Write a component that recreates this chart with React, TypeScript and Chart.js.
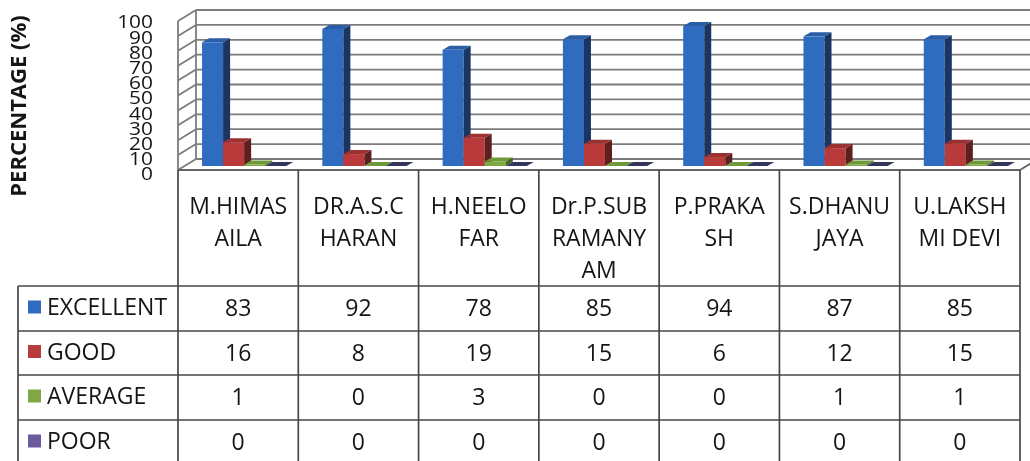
import React, { useEffect, useRef } from "react";
import { Chart, registerables } from "chart.js";
Chart.register(...registerables);

// ---------- data ----------
const categories: string[][] = [
  ["M.HIMAS", "AILA"],
  ["DR.A.S.C", "HARAN"],
  ["H.NEELO", "FAR"],
  ["Dr.P.SUB", "RAMANY", "AM"],
  ["P.PRAKA", "SH"],
  ["S.DHANU", "JAYA"],
  ["U.LAKSH", "MI DEVI"],
];
const seriesNames = ["EXCELLENT", "GOOD", "AVERAGE", "POOR"];
const excellent = [83, 92, 78, 85, 94, 87, 85];
const good = [16, 8, 19, 15, 6, 12, 15];
const average = [1, 0, 3, 0, 0, 1, 1];
const poor = [0, 0, 0, 0, 0, 0, 0];
const yTicks = [0, 10, 20, 30, 40, 50, 60, 70, 80, 90, 100];
const yTitle = "PERCENTAGE (%)";

// ---------- styles ----------
const FRONT = ["#2F6CC0", "#B93A3A", "#80A844", "#6B5B9E"];
const SIDE = ["#1B3562", "#5E1F20", "#4A6428", "#2B2445"];
const TOP = ["#2A5EA6", "#9C3131", "#6F9A3A", "#34355A"];
const FONT = "'Open Sans', 'DejaVu Sans', sans-serif";
const GRID = "#7c7c7c";
const TABLE_LINE = "#474747";
const TEXT = "#151515";

const D = { x: 7, y: -4 }; // bar depth
const F = { x: -6, y: 4 }; // front plane offset
const B = { x: 12, y: -7 }; // back wall offset

function line(ctx: CanvasRenderingContext2D, x1: number, y1: number, x2: number, y2: number) {
  ctx.beginPath();
  ctx.moveTo(x1, y1);
  ctx.lineTo(x2, y2);
  ctx.stroke();
}
function poly(ctx: CanvasRenderingContext2D, pts: number[][], fill: string) {
  ctx.beginPath();
  ctx.moveTo(pts[0][0], pts[0][1]);
  for (let i = 1; i < pts.length; i++) ctx.lineTo(pts[i][0], pts[i][1]);
  ctx.closePath();
  ctx.fillStyle = fill;
  ctx.fill();
}

const threeD = {
  id: "threeD",
  beforeDatasetsDraw(chart: any) {
    const ctx: CanvasRenderingContext2D = chart.ctx;
    const ys = chart.scales.y;
    const { left, right } = chart.chartArea;
    const y0 = ys.getPixelForValue(0);
    const y100 = ys.getPixelForValue(100);
    ctx.save();
    // walls
    ctx.strokeStyle = GRID;
    ctx.lineWidth = 1.8;
    for (const v of yTicks) {
      const yy = ys.getPixelForValue(v);
      line(ctx, left + B.x, yy + B.y, right + B.x + 20, yy + B.y);
      line(ctx, left + F.x, yy + F.y, left + B.x, yy + B.y);
    }
    line(ctx, left + F.x, y100 + F.y, left + F.x, y0 + F.y);
    line(ctx, left + B.x, y100 + B.y, left + B.x, y0 + B.y);
    ctx.strokeStyle = "#666";
    line(ctx, left + F.x, y0 + F.y, right + F.x, y0 + F.y);
    line(ctx, right + F.x, y0 + F.y, right + B.x, y0 + B.y);

    // bars
    const n = categories.length;
    for (let i = 0; i < n; i++) {
      for (let d = 0; d < chart.data.datasets.length; d++) {
        const el: any = chart.getDatasetMeta(d).data[i];
        const p = el.getProps(["x", "y", "base", "width"], true);
        const l = p.x - p.width / 2;
        const r = p.x + p.width / 2;
        const top = p.y;
        const base = p.base;
        if (base - top > 0.5) {
          ctx.fillStyle = FRONT[d];
          ctx.fillRect(l, top, r - l, base - top);
          poly(ctx, [[r, top], [r + D.x, top + D.y], [r + D.x, base + D.y], [r, base]], SIDE[d]);
        }
        poly(ctx, [[l, top], [l + D.x, top + D.y], [r + D.x, top + D.y], [r, top]], TOP[d]);
      }
    }
    ctx.restore();
    return false;
  },
  afterDraw(chart: any) {
    const ctx: CanvasRenderingContext2D = chart.ctx;
    const ys = chart.scales.y;
    const { left, right } = chart.chartArea;
    const y0 = ys.getPixelForValue(0);
    ctx.save();

    // y tick labels
    ctx.fillStyle = TEXT;
    ctx.font = `19px ${FONT}`;
    ctx.textAlign = "right";
    ctx.textBaseline = "middle";
    for (const v of yTicks) {
      const yy = ys.getPixelForValue(v) + 9 - (3 * v) / 100;
      ctx.save();
      ctx.translate(153, yy);
      ctx.scale(1.1, 1);
      ctx.fillText(String(v), 0, 0);
      ctx.restore();
    }

    // y title
    ctx.save();
    ctx.translate(20, 106);
    ctx.rotate(-Math.PI / 2);
    ctx.font = `bold 22px ${FONT}`;
    ctx.textAlign = "center";
    ctx.textBaseline = "middle";
    ctx.fillText(yTitle, 0, 0);
    ctx.restore();

    // data table
    const n = categories.length;
    const colW = (right - left) / n;
    const tLeft = left + F.x;
    const headerTop = y0 + F.y;
    const rowLines = [286, 331, 375, 420, 465];
    const legendLeft = 18;
    ctx.strokeStyle = TABLE_LINE;
    ctx.lineWidth = 1.7;
    for (let i = 0; i <= n; i++) {
      const xx = tLeft + i * colW;
      line(ctx, xx, headerTop, xx, rowLines[rowLines.length - 1]);
    }
    for (const ry of rowLines) line(ctx, legendLeft, ry, tLeft + n * colW, ry);
    line(ctx, legendLeft, rowLines[0], legendLeft, rowLines[rowLines.length - 1]);

    ctx.font = `23px ${FONT}`;
    ctx.fillStyle = TEXT;
    ctx.textAlign = "center";
    ctx.textBaseline = "middle";
    for (let i = 0; i < n; i++) {
      const cx = tLeft + (i + 0.5) * colW;
      categories[i].forEach((s, k) => ctx.fillText(s, cx, 207 + 32 * k));
    }
    const series = [excellent, good, average, poor];
    for (let r = 0; r < series.length; r++) {
      const cy = (rowLines[r] + rowLines[r + 1]) / 2;
      for (let i = 0; i < n; i++) {
        const cx = tLeft + (i + 0.5) * colW;
        ctx.textAlign = "center";
        ctx.fillStyle = TEXT;
        ctx.fillText(String(series[r][i]), cx, cy + 1);
      }
      ctx.fillStyle = FRONT[r];
      ctx.fillRect(28, cy - 8, 13, 13);
      ctx.fillStyle = TEXT;
      ctx.textAlign = "left";
      ctx.fillText(seriesNames[r], 47, cy);
    }
    ctx.restore();
  },
};

export default function App() {
  const ref = useRef<HTMLCanvasElement | null>(null);
  useEffect(() => {
    if (!ref.current) return;
    const chart = new Chart(ref.current, {
      type: "bar",
      data: {
        labels: categories,
        datasets: [excellent, good, average, poor].map((d, i) => ({
          label: seriesNames[i],
          data: d,
          backgroundColor: FRONT[i],
          categoryPercentage: 0.7,
          barPercentage: 1,
        })),
      },
      options: {
        responsive: false,
        animation: false,
        layout: { padding: { left: 184, right: 4, top: 17, bottom: 295 } },
        plugins: { legend: { display: false }, tooltip: { enabled: false }, title: { display: false } },
        scales: {
          x: { display: false },
          y: { display: false, min: 0, max: 100 },
        },
      },
      plugins: [threeD],
    } as any);
    return () => chart.destroy();
  }, []);
  return (
    <div style={{ position: "fixed", left: 0, top: 0, width: 1030, height: 461, background: "#fff" }}>
      <canvas ref={ref} width={1030} height={461} style={{ display: "block" }} />
    </div>
  );
}
